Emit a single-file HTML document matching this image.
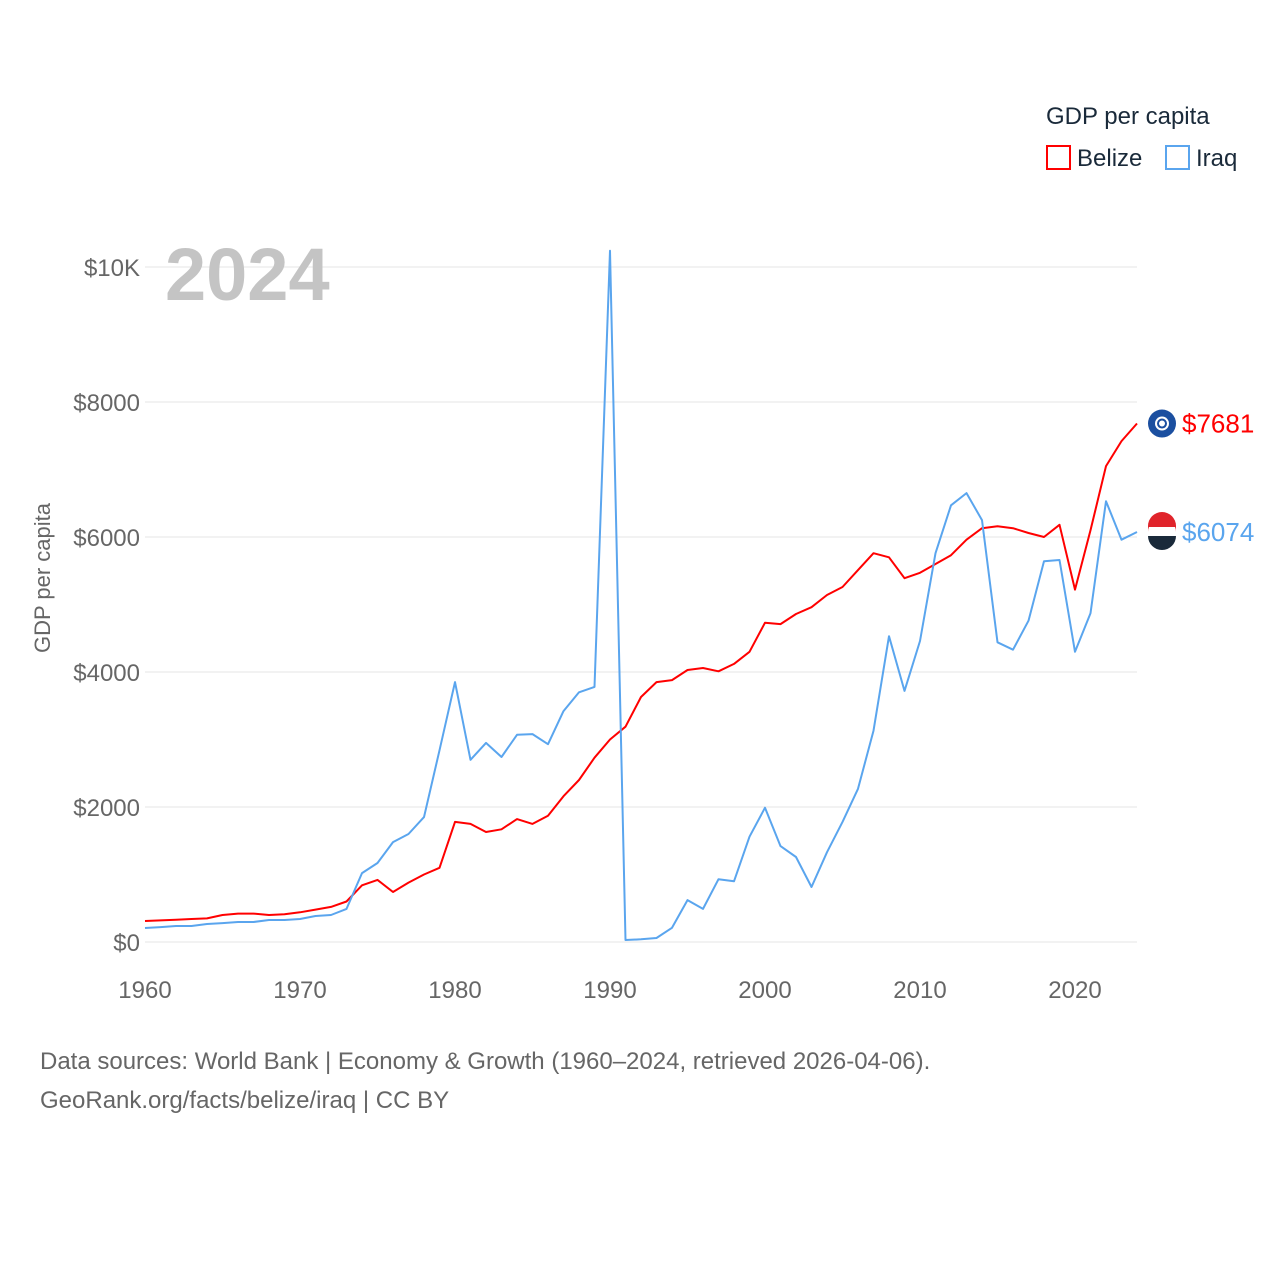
<!DOCTYPE html>
<html><head><meta charset="utf-8"><style>
body{margin:0;background:#fff;}
svg text{font-family:"Liberation Sans",sans-serif;}
</style></head><body>
<svg id="chart" width="1280" height="1280" xmlns="http://www.w3.org/2000/svg">
<rect width="1280" height="1280" fill="#fff"/>
<g id="grid"></g>
<g id="ylabels"></g>
<g id="xlabels"></g>
<text x="165" y="300" font-size="74" font-weight="bold" fill="#c4c4c4">2024</text>
<text transform="translate(50,578) rotate(-90)" text-anchor="middle" font-size="22" fill="#666">GDP per capita</text>
<g id="lines"></g>
<g>
<text x="1046" y="124" font-size="24" fill="#1a2a3a">GDP per capita</text>
<g><rect x="1047" y="146" width="23" height="23" fill="none" stroke="#f00" stroke-width="2"/><text x="1077" y="166" font-size="24" fill="#1a2a3a">Belize</text></g>
<g><rect x="1166" y="146" width="23" height="23" fill="none" stroke="#5aa5ee" stroke-width="2"/><text x="1196" y="166" font-size="24" fill="#1a2a3a">Iraq</text></g>
</g>
<text x="40" y="1069" font-size="24" fill="#666">Data sources: World Bank | Economy &amp; Growth (1960–2024, retrieved 2026-04-06).</text>
<text x="40" y="1108" font-size="24" fill="#666">GeoRank.org/facts/belize/iraq | CC BY</text>
</svg>
<script>
const years=[];for(let y=1960;y<=2024;y++)years.push(y);
const belize=[311,320,330,340,350,400,420,420,400,410,440,480,520,600,840,920,740,880,1000,1100,1780,1750,1630,1670,1820,1750,1870,2160,2400,2730,3000,3190,3630,3850,3880,4030,4060,4010,4120,4300,4730,4710,4860,4960,5140,5260,5510,5760,5700,5390,5470,5600,5730,5960,6130,6160,6130,6060,6000,6180,5220,6100,7050,7420,7681];
const iraq=[207,220,237,237,267,280,296,296,326,326,340,385,400,490,1020,1170,1480,1600,1850,2840,3850,2700,2950,2740,3070,3080,2930,3420,3700,3780,10240,30,40,60,210,620,490,930,900,1560,1990,1420,1260,815,1330,1780,2270,3130,4530,3720,4460,5760,6470,6650,6250,4440,4330,4760,5640,5660,4300,4870,6530,5960,6074];
const yTicks=[0,2000,4000,6000,8000,10000];
const yTickLabels=["$0","$2000","$4000","$6000","$8000","$10K"];
const xTicks=[1960,1970,1980,1990,2000,2010,2020];
const X=yr=>145+(yr-1960)*15.5;
const Y=v=>942-v*0.0675;
const ns="http://www.w3.org/2000/svg";
function mk(tag,attrs,parent){const e=document.createElementNS(ns,tag);for(const k in attrs)e.setAttribute(k,attrs[k]);parent.appendChild(e);return e;}
const grid=document.getElementById('grid'),yl=document.getElementById('ylabels'),xl=document.getElementById('xlabels'),lines=document.getElementById('lines');
yTicks.forEach((t,i)=>{
 const l=mk('line',{x1:145,x2:1137,y1:Y(t),y2:Y(t),stroke:'#e6e6e6','stroke-width':1},grid);
 
 
 const tx=mk('text',{x:140,y:Y(t)+9,'text-anchor':'end','font-size':24,fill:'#666'},yl);
 tx.textContent=yTickLabels[i];
 
 
});
xTicks.forEach(t=>{
 const tx=mk('text',{x:X(t),y:998,'text-anchor':'middle','font-size':24,fill:'#666'},xl);
 tx.textContent=t;
 
 
});
function series(vals,color,name,flag){
 const d=vals.map((v,i)=>(i?'L':'M')+X(years[i]).toFixed(1)+','+Y(v).toFixed(1)).join(' ');
 const p=mk('path',{d:d,fill:'none',stroke:color,'stroke-width':2,'stroke-linejoin':'round'},lines);
 
 
 const last=vals[vals.length-1],cy=Y(last);
 const c=mk('circle',{cx:1162,cy:cy,r:14,fill:flag},lines);
 
 
 const t=mk('text',{x:1182,y:cy+9,'font-size':26,fill:color},lines);
 t.textContent='$'+last;
 
 
 return cy;
}
const cb=series(belize,'#ff0000','belize','#1b4fa0');
mk('circle',{cx:1162,cy:cb,r:7,fill:'#fff'},lines);
mk('circle',{cx:1162,cy:cb,r:4,fill:'none',stroke:'#1b4fa0','stroke-width':2},lines);
const ci=series(iraq,'#5aa5ee','iraq','#fff');
mk('path',{d:`M1148,${ci} A14,14 0 0 1 1176,${ci} L1176,${ci-5} L1148,${ci-5}Z`,fill:'#e0242b'},lines);
mk('path',{d:`M1148,${ci+4} A14,14 0 0 0 1176,${ci+4}Z`,fill:'#1a2a3a'},lines);
mk('path',{d:`M1148,${ci-5} L1148,${ci-6} A14,14 0 0 1 1176,${ci-6} L1176,${ci-5}Z`,fill:'#e0242b'},lines);
</script>
</body></html>
